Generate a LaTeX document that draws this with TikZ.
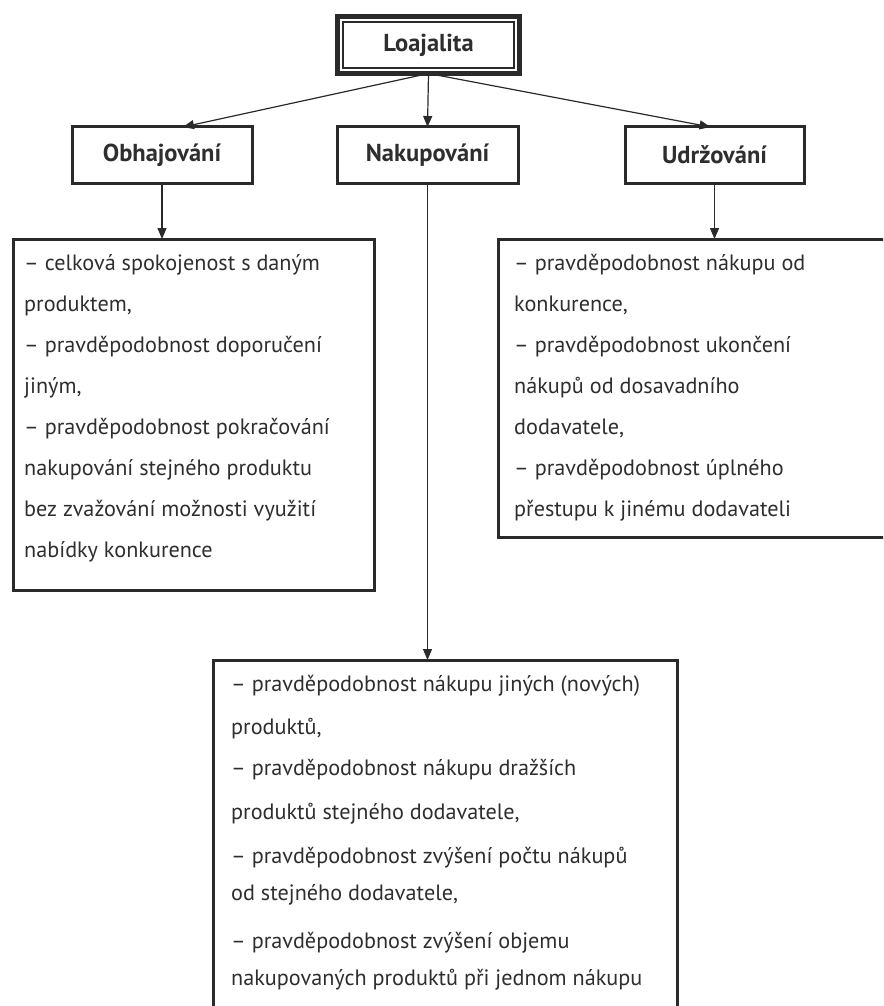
\documentclass[tikz,border=0pt]{standalone}
\usepackage{fontspec}
\setmainfont{PT Sans}
\usetikzlibrary{arrows.meta}
\definecolor{ink}{HTML}{2A2A2A}
\definecolor{txtc}{HTML}{2E2E2E}
\begin{document}
\begin{tikzpicture}[x=1pt,y=-1pt,
  frame/.style={draw=ink, line width=3pt, inner sep=0pt, outer sep=0pt},
  label/.style={font=\fontsize{24.5}{28}\selectfont\bfseries, text=txtc},
  line/.style={font=\fontsize{22.2}{26}\selectfont, text=txtc, anchor=base west, inner sep=0pt},
  conn/.style={draw=ink, line width=1.2pt, -{Triangle[length=11pt,width=9pt]}}]
\useasboundingbox (0,0) rectangle (883,1006);
\clip (0,0) rectangle (883,1006);
% top node
\node[draw=ink, line width=5pt, inner sep=0pt, outer sep=0pt, minimum width=182pt, minimum height=57pt, label] (loj) at (428.5,45) {Loajalita};
\draw[draw=ink, line width=1.2pt] ([shift={(5.5,5.5)}]loj.north west) rectangle ([shift={(-5.5,-5.5)}]loj.south east);
% level 2
\node[frame, minimum width=180pt, minimum height=56pt, label] (obh) at (162,155) {Obhajování};
\node[frame, minimum width=181pt, minimum height=56pt, label] (nak) at (427.5,155) {Nakupování};
\node[frame, minimum width=179pt, minimum height=56pt, label] (udr) at (714.5,155) {Udržování};
% detail boxes
\node[frame, minimum width=361pt, minimum height=351pt] (lbox) at (193.5,414.5) {};
\node[frame, minimum width=400pt, minimum height=298pt] (rbox) at (698,388) {};
\node[frame, minimum width=464pt, minimum height=380pt] (bbox) at (445,850) {};
% connectors
\draw[conn] (loj.south) -- ([xshift=21pt]obh.north);
\draw[conn] (loj.south) -- (nak.north);
\draw[conn] (loj.south) -- ([xshift=-4pt]udr.north);
\draw[conn] (obh.south) -- (lbox.north -| obh.south);
\draw[conn] (udr.south) -- (rbox.north -| udr.south);
\draw[conn] (nak.south) -- (bbox.north -| nak.south);
% texts
\foreach \t [count=\i] in {{– celková spokojenost s daným},{produktem,},{– pravděpodobnost doporučení},{jiným,},{– pravděpodobnost pokračování},{nakupování stejného produktu},{bez zvažování možnosti využití},{nabídky konkurence}}
  \node[line] (la\i) at (24,{270+41*(\i-1)}) {\t};
\foreach \t [count=\i] in {{– pravděpodobnost nákupu od},{konkurence,},{– pravděpodobnost ukončení},{nákupů od dosavadního},{dodavatele,},{– pravděpodobnost úplného},{přestupu k jinému dodavateli}}
  \node[line] (ra\i) at (514,{270+41*(\i-1)}) {\t};
\foreach \y/\t [count=\i] in {691/{– pravděpodobnost nákupu jiných (nových)},734/{produktů,},775/{– pravděpodobnost nákupu dražších},819/{produktů stejného dodavatele,},863/{– pravděpodobnost zvýšení počtu nákupů},900/{od stejného dodavatele,},948/{– pravděpodobnost zvýšení objemu},985/{nakupovaných produktů při jednom nákupu}}
  \node[line] (ba\i) at (231,\y) {\t};
\end{tikzpicture}
\end{document}
